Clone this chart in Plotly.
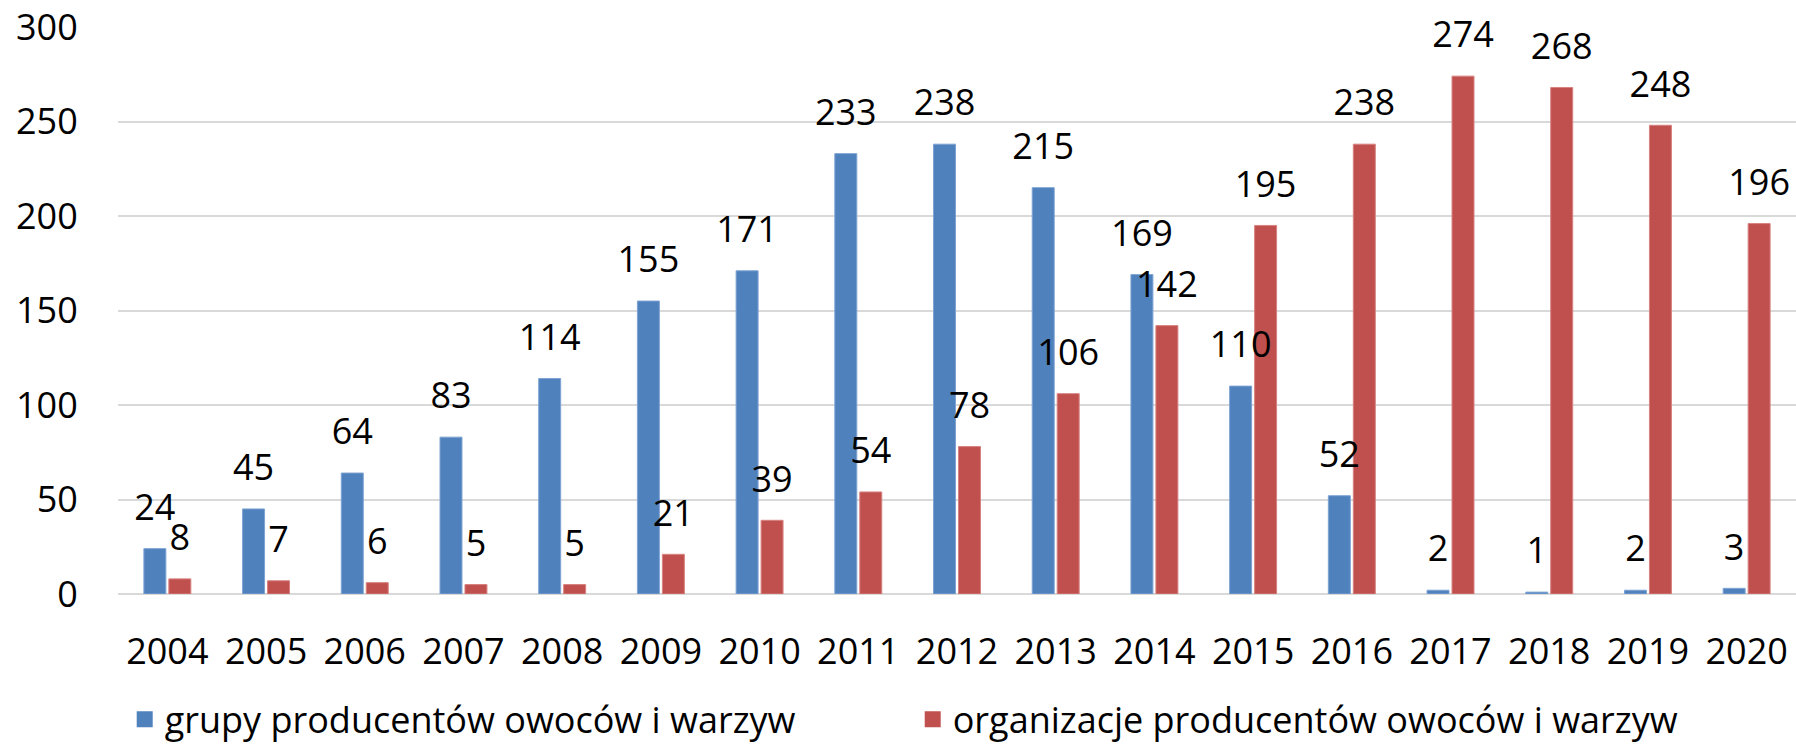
import plotly.graph_objects as go

years = ["2004", "2005", "2006", "2007", "2008", "2009", "2010", "2011", "2012",
         "2013", "2014", "2015", "2016", "2017", "2018", "2019", "2020"]
grupy = [24, 45, 64, 83, 114, 155, 171, 233, 238, 215, 169, 110, 52, 2, 1, 2, 3]
organizacje = [8, 7, 6, 5, 5, 21, 39, 54, 78, 106, 142, 195, 238, 274, 268, 248, 196]
name_grupy = "grupy producentów owoców i warzyw"
name_org = "organizacje producentów owoców i warzyw"
y_ticks = [0, 50, 100, 150, 200, 250, 300]

FONT = "Open Sans"
FS = 36
BLUE = "#4f81bd"
RED = "#c0504d"

fig = go.Figure()
for vals, name, col, edge, grp in [(grupy, name_grupy, BLUE, "#7ea3d3", "g"),
                                   (organizacje, name_org, RED, "#d78280", "o")]:
    fig.add_trace(go.Bar(
        x=years, y=vals, name=name, showlegend=False,
        marker=dict(color=col, line=dict(color=edge, width=1)),
        offsetgroup=grp, hoverinfo="x+y",
    ))
for vals, name, col, grp in [(grupy, name_grupy, BLUE, "g"),
                             (organizacje, name_org, RED, "o")]:
    # data labels, grouped like the bars
    fig.add_trace(go.Scatter(
        x=years, y=vals, mode="markers+text", text=[str(v) for v in vals],
        textposition="top center", showlegend=False, hoverinfo="skip",
        marker=dict(size=30, opacity=0, color=col),
        textfont=dict(family=FONT, size=FS, color="black"),
        offsetgroup=grp, cliponaxis=False,
    ))
    # legend entry
    fig.add_trace(go.Scatter(
        x=[None], y=[None], mode="markers", name=name, showlegend=True,
        marker=dict(symbol="square", size=24, color=col),
        offsetgroup=grp,
    ))

fig.update_layout(
    width=1796, height=749,
    margin=dict(l=118, r=0, t=27, b=155, autoexpand=False),
    paper_bgcolor="white", plot_bgcolor="white",
    barmode="group", bargap=0.494, bargroupgap=0.12,
    scattermode="group", scattergap=0.494,
    font=dict(family=FONT, size=FS, color="black"),
    showlegend=True,
    legend=dict(orientation="h", x=0.004, xanchor="left", y=-0.221, yanchor="middle",
                entrywidth=743, entrywidthmode="pixels",
                font=dict(family=FONT, size=FS, color="black"),
                bgcolor="rgba(0,0,0,0)"),
)
fig.update_xaxes(
    type="category", showgrid=False, showline=False, zeroline=False,
    ticks="outside", ticklen=26, tickcolor="rgba(0,0,0,0)",
    tickfont=dict(family=FONT, size=FS, color="black"),
)
fig.update_yaxes(
    range=[0, 300], tickvals=y_ticks, showgrid=True, gridcolor="#d9d9d9", gridwidth=2,
    zeroline=True, zerolinecolor="#d9d9d9", zerolinewidth=2, showline=False,
    ticks="outside", ticklen=32, tickcolor="rgba(0,0,0,0)",
    tickfont=dict(family=FONT, size=FS, color="black"),
)

fig.write_html("out.html", config={"displayModeBar": False},
               post_script="document.body.style.margin='0';")
